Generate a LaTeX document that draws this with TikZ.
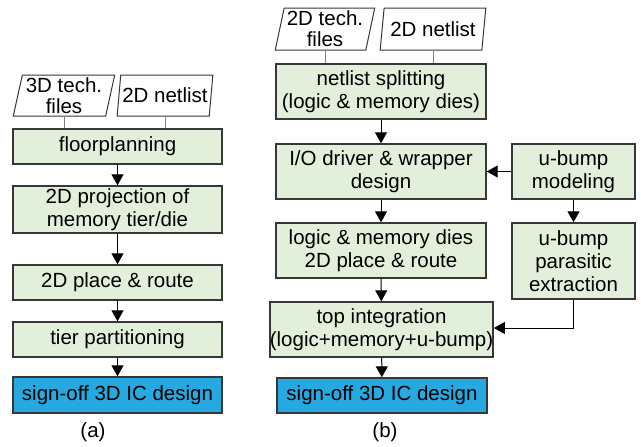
\documentclass[tikz,border=0pt]{standalone}
\usepackage{fontspec}
\setmainfont{Liberation Sans}
\usetikzlibrary{shapes.geometric,arrows.meta}
\definecolor{boxgreen}{RGB}{226,239,218}
\definecolor{boxblue}{RGB}{38,168,224}
\definecolor{edgegray}{RGB}{55,55,55}
\tikzset{
  flowbox/.style={draw=edgegray, line width=1.4pt, fill=boxgreen, align=center,
    inner sep=0pt, font=\fontsize{20.5}{23}\selectfont},
  signbox/.style={flowbox, fill=boxblue},
  inputbox/.style={draw=edgegray, line width=1pt, shape=trapezium, trapezium stretches=true,
    trapezium left angle=77, trapezium right angle=103, align=center, inner sep=0pt,
    font=\fontsize{20.5}{21}\selectfont},
  flowarrow/.style={-{Triangle[width=12pt,length=11pt]}, line width=1pt},
  feedline/.style={line width=0.9pt, draw=gray}
}
\begin{document}
\begin{tikzpicture}[x=1pt,y=-1pt]
        \useasboundingbox (0,0) rectangle (641,447);
        % Flow (a)
        \node[inputbox, minimum width=102pt, minimum height=41pt] (techA) at (64,95.5) {3D tech.\\files};
        \node[inputbox, minimum width=96pt, minimum height=41pt] (netA) at (165,95.5) {2D netlist};
        \node[flowbox, minimum width=209pt, minimum height=35pt] (floor) at (117.5,146.5) {floorplanning};
        \node[flowbox, minimum width=209pt, minimum height=47pt] (proj) at (117.5,209.5) {2D projection of\\memory tier/die};
        \node[flowbox, minimum width=209pt, minimum height=35pt] (placeA) at (117.5,282.5) {2D place \& route};
        \node[flowbox, minimum width=209pt, minimum height=35pt] (tier) at (117.5,339.5) {tier partitioning};
        \node[signbox, minimum width=209pt, minimum height=36pt] (signA) at (117.5,395) {sign-off 3D IC design};
        \node[font=\fontsize{20.5}{23}\selectfont] (capA) at (93,432) {(a)};
        \draw[feedline] (techA.south) -- (techA.south |- floor.north);
        \draw[feedline] (netA.south) -- (netA.south |- floor.north);
        \draw[flowarrow] (floor) -- (proj);
        \draw[flowarrow] (proj) -- (placeA);
        \draw[flowarrow] (placeA) -- (tier);
        \draw[flowarrow] (tier) -- (signA);
        % Flow (b)
        \node[inputbox, minimum width=100pt, minimum height=42pt] (techB) at (325,29) {2D tech.\\files};
        \node[inputbox, minimum width=106pt, minimum height=42pt] (netB) at (433,29) {2D netlist};
        \node[flowbox, minimum width=210pt, minimum height=55pt] (split) at (381,91.5) {netlist splitting\\(logic \& memory dies)};
        \node[flowbox, minimum width=210pt, minimum height=55pt] (iodrv) at (381,171.5) {I/O driver \& wrapper\\design};
        \node[flowbox, minimum width=210pt, minimum height=55pt] (placeB) at (381,250.5) {logic \& memory dies\\2D place \& route};
        \node[flowbox, minimum width=221pt, minimum height=55pt] (topint) at (381.5,329.5) {top integration\\(logic+memory+u-bump)};
        \node[signbox, minimum width=210pt, minimum height=35pt] (signB) at (382,395.5) {sign-off 3D IC design};
        \node[flowbox, minimum width=123pt, minimum height=55pt] (model) at (573.5,171.5) {u-bump\\modeling};
        \node[flowbox, minimum width=123pt, minimum height=76pt] (paras) at (573.5,261) {u-bump\\parasitic\\extraction};
        \node[font=\fontsize{20.5}{23}\selectfont] (capB) at (385,432) {(b)};
        \draw[feedline] (techB.south) -- (techB.south |- split.north);
        \draw[feedline] (netB.south) -- (netB.south |- split.north);
        \draw[flowarrow] (split) -- (iodrv);
        \draw[flowarrow] (iodrv) -- (placeB);
        \draw[flowarrow] (placeB) -- (topint);
        \draw[flowarrow] (topint) -- (signB);
        \draw[flowarrow] (model) -- (iodrv);
        \draw[flowarrow] (model) -- (paras);
        \draw[flowarrow] (paras.south) |- (topint.east |- 0,328);
    \end{tikzpicture}
\end{document}
